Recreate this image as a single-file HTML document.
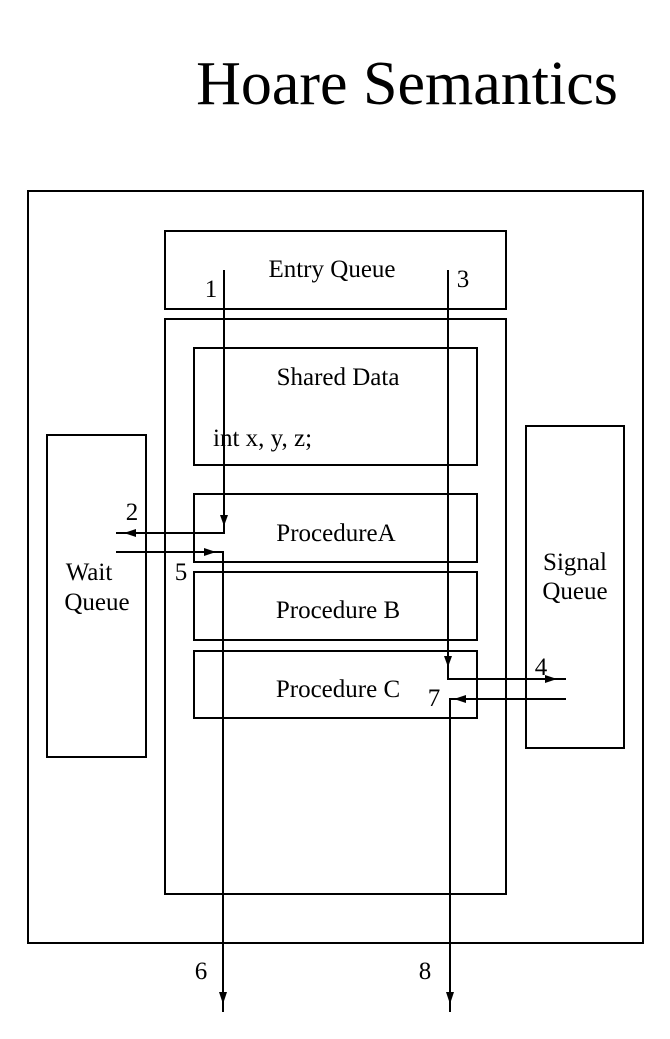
<!DOCTYPE html>
<html><head><style>body{margin:0;background:#fff}svg{display:block}</style></head><body>
<svg width="670" height="1039" viewBox="0 0 670 1039" xmlns="http://www.w3.org/2000/svg" font-family="Liberation Serif, serif">
<rect width="670" height="1039" fill="#fff"/>
<text x="407" y="104" font-size="62" text-anchor="middle">Hoare Semantics</text>
<g fill="none" stroke="#000" stroke-width="2">
<rect x="28" y="191" width="615" height="752"/>
<rect x="165" y="231" width="341" height="78"/>
<rect x="165" y="319" width="341" height="575"/>
<rect x="194" y="348" width="283" height="117"/>
<rect x="194" y="494" width="283" height="68"/>
<rect x="194" y="572" width="283" height="68"/>
<rect x="194" y="651" width="283" height="67"/>
<rect x="47" y="435" width="99" height="322"/>
<rect x="526" y="426" width="98" height="322"/>
<polyline points="224,270 224,533 116,533"/>
<polyline points="116,552 223,552 223,1012"/>
<polyline points="448,270 448,679 566,679"/>
<polyline points="566,699 450,699 450,1012"/>
</g>
<g fill="#000">
<polygon points="220,515 228,515 224,526"/>
<polygon points="136,529 136,537 124,533"/>
<polygon points="204,548 204,556 216,552"/>
<polygon points="219,992 227,992 223,1004"/>
<polygon points="444,656 452,656 448,667"/>
<polygon points="545,675 545,683 557,679"/>
<polygon points="466,695 466,703 454,699"/>
<polygon points="446,992 454,992 450,1004"/>
</g>
<g font-size="25">
<text x="332" y="277" text-anchor="middle">Entry Queue</text>
<text x="211" y="297" text-anchor="middle">1</text>
<text x="463" y="287" text-anchor="middle">3</text>
<text x="338" y="385" text-anchor="middle">Shared Data</text>
<text x="213" y="446">int x, y, z;</text>
<text x="336" y="541" text-anchor="middle">ProcedureA</text>
<text x="338" y="618" text-anchor="middle">Procedure B</text>
<text x="338" y="697" text-anchor="middle">Procedure C</text>
<text x="132" y="520" text-anchor="middle">2</text>
<text x="181" y="580" text-anchor="middle">5</text>
<text x="541" y="675" text-anchor="middle">4</text>
<text x="434" y="706" text-anchor="middle">7</text>
<text x="89" y="580" text-anchor="middle">Wait</text>
<text x="97" y="610" text-anchor="middle">Queue</text>
<text x="575" y="570" text-anchor="middle">Signal</text>
<text x="575" y="599" text-anchor="middle">Queue</text>
<text x="201" y="979" text-anchor="middle">6</text>
<text x="425" y="979" text-anchor="middle">8</text>
</g>
</svg>
</body></html>
